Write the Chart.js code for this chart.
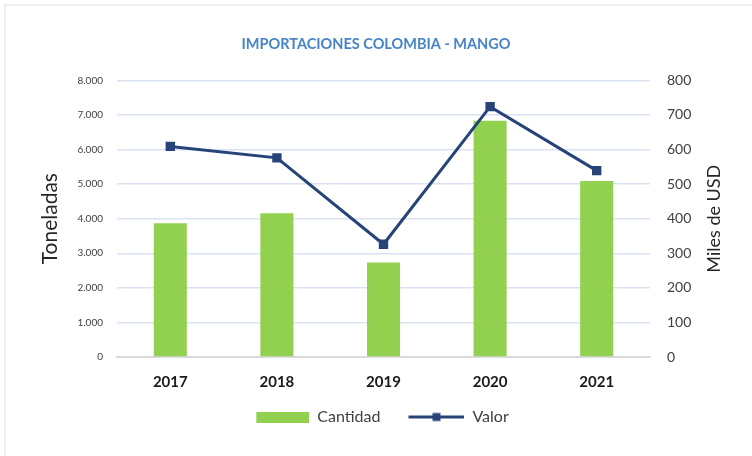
<!DOCTYPE html>
<html>
<head>
<meta charset="utf-8">
<script src="https://cdn.jsdelivr.net/npm/chart.js@4"></script>
<style>
  body { margin: 0; background: #fff; }
  #marco { position: absolute; left: 4px; top: 4px; width: 760px; height: 460px;
           border-left: 2px solid #eceff4; border-top: 2px solid #eceff4; }
  #caja { position: absolute; left: 0; top: 0; width: 752px; height: 456px; }
</style>
</head>
<body>
<div id="marco"></div>
<div id="caja"><canvas id="grafico"></canvas></div>
<script>
// datos
const anios = ['2017', '2018', '2019', '2020', '2021'];
const cantidad = [3870, 4160, 2730, 6830, 5090];   // toneladas
const valor = [609, 576, 326, 724, 539];            // miles de USD
const ticksToneladas = [0, 1000, 2000, 3000, 4000, 5000, 6000, 7000, 8000];
const ticksUSD = [0, 100, 200, 300, 400, 500, 600, 700, 800];

const verde = '#92d050';
const azul = '#264478';
const fuente = 'Lato, "Open Sans", sans-serif';

// muestras de la leyenda (pegadas a la derecha del lienzo, el resto transparente)
function muestraBarra() {
  const c = document.createElement('canvas');
  c.width = 66; c.height = 11;
  const g = c.getContext('2d');
  g.fillStyle = verde;
  g.fillRect(13, 0, 53, 11);
  return c;
}
function muestraLinea() {
  const c = document.createElement('canvas');
  c.width = 66; c.height = 11;
  const g = c.getContext('2d');
  g.strokeStyle = azul;
  g.lineWidth = 3;
  g.beginPath(); g.moveTo(10, 5.5); g.lineTo(66, 5.5); g.stroke();
  g.fillStyle = azul;
  g.fillRect(34, 1.5, 8, 8);
  return c;
}
const muestras = [muestraBarra(), muestraLinea()];

function puntos(v) {
  return v.toString().replace(/\B(?=(\d{3})+(?!\d))/g, '.');
}

// títulos de ejes, ambos leídos de abajo hacia arriba
const titulosEjes = {
  id: 'titulosEjes',
  afterDraw(chart) {
    const ctx = chart.ctx;
    const a = chart.chartArea;
    const yc = a.top + (a.bottom - a.top) / 2;
    [['Toneladas', 50, 21], ['Miles de USD', 714, 18]].forEach(([t, x, s]) => {
      ctx.save();
      ctx.fillStyle = '#262626';
      ctx.font = s + 'px ' + fuente;
      ctx.textAlign = 'center';
      ctx.textBaseline = 'middle';
      ctx.translate(x, yc);
      ctx.rotate(-Math.PI / 2);
      ctx.fillText(t, 0, 0);
      ctx.restore();
    });
  }
};

new Chart(document.getElementById('grafico'), {
  data: {
    labels: anios,
    datasets: [
      {
        type: 'bar',
        label: 'Cantidad',
        data: cantidad,
        backgroundColor: verde,
        yAxisID: 'y',
        barPercentage: 0.31,
        categoryPercentage: 1,
        order: 1
      },
      {
        type: 'line',
        label: 'Valor',
        data: valor,
        borderColor: azul,
        backgroundColor: azul,
        borderWidth: 3,
        pointStyle: 'rect',
        pointRadius: 4.5,
        pointBackgroundColor: azul,
        pointBorderColor: azul,
        tension: 0,
        yAxisID: 'y1',
        order: 0
      }
    ]
  },
  options: {
    responsive: true,
    maintainAspectRatio: false,
    animation: false,
    layout: { padding: { left: 0, right: 0, top: 0, bottom: 21 } },
    scales: {
      x: {
        grid: { display: false, drawTicks: false },
        border: { color: '#d9d9d9', width: 2 },
        ticks: { color: '#1a1a1a', padding: 16, font: { family: fuente, size: 15, weight: 'bold' } },
        afterFit: s => { s.height = 34; }
      },
      y: {
        position: 'left',
        min: 0, max: 8000,
        afterBuildTicks: s => { s.ticks = ticksToneladas.map(v => ({ value: v })); },
        grid: { color: '#d9e2f3', lineWidth: 1.5, drawTicks: false },
        border: { display: false },
        ticks: { color: '#404040', padding: 14, font: { family: fuente, size: 10 }, callback: v => puntos(v) },
        afterFit: s => { s.width = 117; }
      },
      y1: {
        position: 'right',
        min: 0, max: 800,
        afterBuildTicks: s => { s.ticks = ticksUSD.map(v => ({ value: v })); },
        grid: { display: false, drawTicks: false },
        border: { display: false },
        ticks: { color: '#404040', padding: 17, font: { family: fuente, size: 14 } },
        afterFit: s => { s.width = 102; }
      }
    },
    plugins: {
      title: {
        display: true,
        text: 'IMPORTACIONES COLOMBIA - MANGO',
        color: '#4584c6',
        font: { family: fuente, size: 14.5, weight: 'bold' },
        padding: { top: 36, bottom: 27 }
      },
      legend: {
        position: 'bottom',
        labels: {
          usePointStyle: true,
          pointStyleWidth: 66,
          boxHeight: 11,
          padding: 18,
          color: '#404040',
          font: { family: fuente, size: 16 },
          sort: (a, b) => a.datasetIndex - b.datasetIndex,
          generateLabels: chart => {
            const items = Chart.defaults.plugins.legend.labels.generateLabels(chart);
            items.forEach(it => { it.pointStyle = muestras[it.datasetIndex]; });
            return items;
          }
        }
      },
      tooltip: { enabled: false }
    }
  },
  plugins: [titulosEjes]
});
</script>
</body>
</html>
